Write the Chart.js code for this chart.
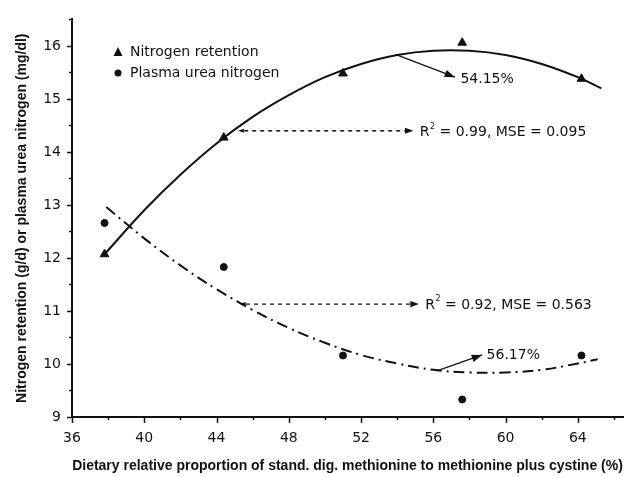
<!DOCTYPE html>
<html>
<head>
<meta charset="utf-8">
<title>Nitrogen retention and plasma urea nitrogen</title>
<script src="https://cdn.jsdelivr.net/npm/chart.js@4.4.1/dist/chart.umd.min.js"></script>
<style>
  html, body { margin: 0; padding: 0; background: #fff; }
  #wrap { width: 635px; height: 477px; }
</style>
</head>
<body>
<div id="wrap"><canvas id="chart" width="635" height="477"></canvas></div>
<script>
// observed treatments (x = relative proportion, %)
const levels = [37.8, 44.4, 51.0, 57.6, 64.2];
const nitrogenRetention = [12.07, 14.27, 15.48, 16.06, 15.38];
const plasmaUrea = [12.66, 11.83, 10.16, 9.33, 10.16];

// fitted curves
const nrFitX = [37.8, 40, 42, 44, 46, 48, 50, 52, 54, 56, 58, 60, 62, 64, 65.3];
const nrFitY = [12.07, 12.90, 13.57, 14.16, 14.66, 15.07, 15.41, 15.66, 15.83, 15.91, 15.91, 15.83, 15.66, 15.41, 15.20];
const punFitX = [37.9, 40, 42, 44, 46, 48, 50, 52, 54, 56, 58, 60, 62, 64, 65.1];
const punFitY = [12.96, 12.37, 11.86, 11.41, 11.02, 10.68, 10.40, 10.17, 10.01, 9.89, 9.84, 9.84, 9.89, 10.01, 10.09];

// axis ticks
const xTicks = [36, 40, 44, 48, 52, 56, 60, 64];
const yTicks = [9, 10, 11, 12, 13, 14, 15, 16];

const legendLabels = ['Nitrogen retention', 'Plasma urea nitrogen'];
const xTitle = 'Dietary relative proportion of stand. dig. methionine to methionine plus cystine (%)';
const yTitle = 'Nitrogen retention (g/d) or plasma urea nitrogen (mg/dl)';

const toPoints = (xs, ys) => xs.map((x, i) => ({ x: x, y: ys[i] }));

const INK = '#111';
const TEXT_FONT = '14px "DejaVu Sans", sans-serif';

// arrows + labels, given in data units
const notes = [
  { kind: 'arrow', from: [53.9, 15.84], to: [57.2, 15.41], text: '54.15%', at: [57.5, 15.37] },
  { kind: 'dashed', from: [45.2, 14.40], to: [54.9, 14.40], text: ['R', '2', ' = 0.99, MSE = 0.095'], at: [55.25, 14.36] },
  { kind: 'dashed', from: [45.3, 11.13], to: [55.2, 11.13], text: ['R', '2', ' = 0.92, MSE = 0.563'], at: [55.55, 11.11] },
  { kind: 'arrow', from: [56.2, 9.87], to: [58.7, 10.17], text: '56.17%', at: [58.95, 10.17] }
];

function arrowHead(ctx, x1, y1, x2, y2, size) {
  const a = Math.atan2(y2 - y1, x2 - x1);
  ctx.beginPath();
  ctx.moveTo(x2, y2);
  ctx.lineTo(x2 - size * Math.cos(a - 0.35), y2 - size * Math.sin(a - 0.35));
  ctx.lineTo(x2 - size * Math.cos(a + 0.35), y2 - size * Math.sin(a + 0.35));
  ctx.closePath();
  ctx.fill();
}

const extrasPlugin = {
  id: 'extras',
  afterDraw(chart) {
    const ctx = chart.ctx;
    const xs = chart.scales.x, ys = chart.scales.y;
    const area = chart.chartArea;
    ctx.save();
    ctx.strokeStyle = INK;
    ctx.fillStyle = INK;

    // tick marks (major + minor), drawn outward
    ctx.lineWidth = 1.5;
    ctx.beginPath();
    for (let v = 36; v <= 66; v += 2) {
      const px = Math.round(xs.getPixelForValue(v)) + 0.5;
      const len = (v % 4 === 0) ? 6 : 3;
      ctx.moveTo(px, area.bottom);
      ctx.lineTo(px, area.bottom + len);
    }
    for (let v = 9; v <= 16.5; v += 0.5) {
      const py = Math.round(ys.getPixelForValue(v)) + 0.5;
      const len = Number.isInteger(v) ? 5 : 3;
      ctx.moveTo(area.left, py);
      ctx.lineTo(area.left - len, py);
    }
    ctx.stroke();

    // legend
    ctx.font = TEXT_FONT;
    ctx.textBaseline = 'middle';
    ctx.textAlign = 'left';
    ctx.beginPath();
    ctx.moveTo(118, 47); ctx.lineTo(122.5, 56); ctx.lineTo(113.5, 56); ctx.closePath();
    ctx.fill();
    ctx.fillText(legendLabels[0], 130, 52);
    ctx.beginPath();
    ctx.arc(118, 73, 3.5, 0, Math.PI * 2);
    ctx.fill();
    ctx.fillText(legendLabels[1], 130, 73);

    // annotations
    notes.forEach(n => {
      const x1 = xs.getPixelForValue(n.from[0]), y1 = ys.getPixelForValue(n.from[1]);
      const x2 = xs.getPixelForValue(n.to[0]), y2 = ys.getPixelForValue(n.to[1]);
      ctx.lineWidth = 1.3;
      if (n.kind === 'dashed') {
        ctx.setLineDash([4, 4]);
        ctx.beginPath();
        ctx.moveTo(x1 + 6, y1); ctx.lineTo(x2 - 6, y2);
        ctx.stroke();
        ctx.setLineDash([]);
        arrowHead(ctx, x1 + 8, y1, x1, y1, 6);
        arrowHead(ctx, x1 - 20, y2, x2, y2, 9);
      } else {
        ctx.beginPath();
        ctx.moveTo(x1, y1); ctx.lineTo(x2, y2);
        ctx.stroke();
        arrowHead(ctx, x1, y1, x2, y2, 11);
      }
      const tx = xs.getPixelForValue(n.at[0]), ty = ys.getPixelForValue(n.at[1]);
      ctx.font = TEXT_FONT;
      if (Array.isArray(n.text)) {
        ctx.fillText(n.text[0], tx, ty);
        let w = ctx.measureText(n.text[0]).width;
        ctx.font = '8px "DejaVu Sans", sans-serif';
        ctx.fillText(n.text[1], tx + w + 0.5, ty - 6);
        w += ctx.measureText(n.text[1]).width + 0.5;
        ctx.font = TEXT_FONT;
        ctx.fillText(n.text[2], tx + w, ty);
      } else {
        ctx.fillText(n.text, tx, ty);
      }
    });
    ctx.restore();
  }
};

const tickFont = { family: '"DejaVu Sans", sans-serif', size: 14 };
const titleFont = { family: '"Liberation Sans", Arial, sans-serif', size: 14, weight: 'bold' };

new Chart(document.getElementById('chart').getContext('2d'), {
  type: 'scatter',
  data: {
    datasets: [
      {
        label: 'NR fit',
        data: toPoints(nrFitX, nrFitY),
        showLine: true,
        borderColor: INK,
        borderWidth: 2,
        pointRadius: 0,
        tension: 0.4
      },
      {
        label: 'PUN fit',
        data: toPoints(punFitX, punFitY),
        showLine: true,
        borderColor: INK,
        borderWidth: 2,
        borderDash: [11, 5, 2, 5],
        pointRadius: 0,
        tension: 0.4
      },
      {
        label: legendLabels[0],
        data: toPoints(levels, nitrogenRetention),
        pointStyle: 'triangle',
        pointRadius: 5,
        backgroundColor: INK,
        borderColor: INK
      },
      {
        label: legendLabels[1],
        data: toPoints(levels, plasmaUrea),
        pointStyle: 'circle',
        pointRadius: 3.5,
        backgroundColor: INK,
        borderColor: INK
      }
    ]
  },
  options: {
    responsive: false,
    animation: false,
    devicePixelRatio: 1,
    layout: { padding: { top: 11, right: 12, bottom: 0, left: 0 } },
    plugins: {
      legend: { display: false },
      tooltip: { enabled: false }
    },
    scales: {
      x: {
        type: 'linear',
        min: 36,
        max: 66.5,
        afterFit: s => { s.height = 60; },
        afterBuildTicks: s => { s.ticks = xTicks.map(v => ({ value: v })); },
        ticks: { font: tickFont, color: INK, padding: 13, maxRotation: 0 },
        grid: { drawOnChartArea: false, drawTicks: false },
        border: { color: INK, width: 2 },
        title: { display: true, text: xTitle, font: titleFont, color: INK, padding: { top: 0, bottom: 2 } }
      },
      y: {
        type: 'linear',
        min: 9,
        max: 16.5,
        afterFit: s => { s.width = 72; },
        afterBuildTicks: s => { s.ticks = yTicks.map(v => ({ value: v })); },
        ticks: { font: tickFont, color: INK, padding: 11 },
        grid: { drawOnChartArea: false, drawTicks: false },
        border: { color: INK, width: 2 },
        title: { display: true, text: yTitle, font: titleFont, color: INK, padding: { top: 14, bottom: 0 } }
      }
    }
  },
  plugins: [extrasPlugin]
});
</script>
</body>
</html>
